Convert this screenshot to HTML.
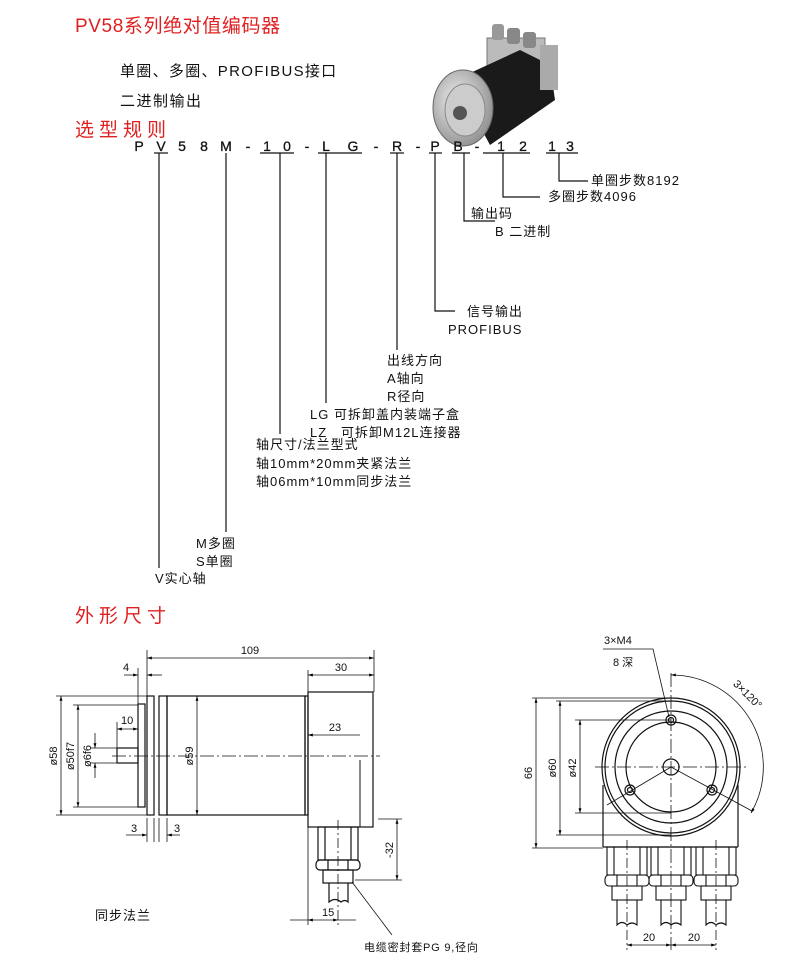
<!DOCTYPE html>
<html><head><meta charset="utf-8"><style>
html,body{margin:0;padding:0;background:#fff;}
svg{display:block;font-family:"Liberation Sans","Noto Sans CJK SC",sans-serif;}
</style></head><body>
<svg width="787" height="967" viewBox="0 0 787 967" xmlns="http://www.w3.org/2000/svg">
<defs>
<marker id="a" viewBox="0 0 10 10" refX="10" refY="5" markerWidth="8" markerHeight="6" orient="auto-start-reverse"><path d="M0,2 L10,5 L0,8 z" fill="#000"/></marker>
<radialGradient id="g1" cx="0.4" cy="0.4" r="0.7"><stop offset="0" stop-color="#eee"/><stop offset="1" stop-color="#888"/></radialGradient>
</defs>
<!-- header -->
<text x="75" y="32" font-size="19" fill="#e02020" letter-spacing="0.6">PV58系列绝对值编码器</text>
<text x="120" y="76" font-size="15" fill="#111" letter-spacing="1.3">单圈、多圈、PROFIBUS接口</text>
<text x="120" y="106" font-size="15" fill="#111" letter-spacing="1.5">二进制输出</text>
<text x="75" y="136" font-size="19" fill="#e02020" letter-spacing="5">选型规则</text>
<!-- photo -->
<g>
<rect x="487" y="38" width="58" height="40" fill="#bbb" stroke="#777"/>
<rect x="492" y="24" width="12" height="16" fill="#999" rx="3"/>
<rect x="507" y="28" width="13" height="16" fill="#888" rx="3"/>
<rect x="523" y="32" width="13" height="16" fill="#888" rx="3"/>
<polygon points="455,80 520,50 550,65 555,100 490,145" fill="#1a1a1a"/>
<rect x="540" y="45" width="18" height="45" fill="#aaa"/>
<ellipse cx="463" cy="108" rx="30" ry="38" fill="url(#g1)" stroke="#666"/>
<ellipse cx="465" cy="110" rx="20" ry="26" fill="#ccc" stroke="#888"/>
<circle cx="460" cy="113" r="7" fill="#555"/>
</g>
<!-- code line -->
<g font-size="14" fill="#111" text-anchor="middle" stroke="#111" stroke-width="0.3">
<text x="139" y="151">P</text><text x="161" y="151">V</text><text x="182" y="151">5</text><text x="204" y="151">8</text><text x="226" y="151">M</text><text x="248" y="151">-</text><text x="267" y="151">1</text><text x="287" y="151">0</text><text x="307" y="151">-</text><text x="326" y="151">L</text><text x="353" y="151">G</text><text x="376" y="151">-</text><text x="397" y="151">R</text><text x="418" y="151">-</text><text x="435" y="151">P</text><text x="458" y="151">B</text><text x="477" y="151">-</text><text x="501" y="151">1</text><text x="523" y="151">2</text><text x="552" y="151">1</text><text x="570" y="151">3</text>
</g>
<g stroke="#111" stroke-width="1.2" fill="none">
<line x1="154" y1="153" x2="168" y2="153"/><line x1="260" y1="153" x2="294" y2="153"/><line x1="318" y1="153" x2="362" y2="153"/><line x1="390" y1="153" x2="404" y2="153"/><line x1="429" y1="153" x2="442" y2="153"/><line x1="452" y1="153" x2="470" y2="153"/><line x1="483" y1="153" x2="530" y2="153"/><line x1="546" y1="153" x2="578" y2="153"/>
<polyline points="159,153 159,568"/>
<polyline points="226,153 226,532"/>
<polyline points="280,153 280,434"/>
<polyline points="326,153 326,403"/>
<polyline points="397,153 397,350"/>
<polyline points="435,153 435,311 455,311"/>
<polyline points="464,153 464,221 495,221"/>
<polyline points="503,153 503,197 540,197"/>
<polyline points="559,153 559,181 588,181"/>
</g>
<g font-size="13" fill="#111" letter-spacing="1">
<text x="591" y="185">单圈步数8192</text>
<text x="548" y="201">多圈步数4096</text>
<text x="471" y="218">输出码</text>
<text x="495" y="236">B 二进制</text>
<text x="467" y="316">信号输出</text>
<text x="448" y="334">PROFIBUS</text>
<text x="387" y="365">出线方向</text>
<text x="387" y="383">A轴向</text>
<text x="387" y="401">R径向</text>
<text x="310" y="419">LG 可拆卸盖内装端子盒</text>
<text x="310" y="437">LZ &#160;&#160;可拆卸M12L连接器</text>
<text x="256" y="449">轴尺寸/法兰型式</text>
<text x="256" y="468">轴10mm*20mm夹紧法兰</text>
<text x="256" y="486">轴06mm*10mm同步法兰</text>
<text x="196" y="548">M多圈</text>
<text x="196" y="566">S单圈</text>
<text x="155" y="583">V实心轴</text>
</g>
<text x="75" y="622" font-size="19" fill="#e02020" letter-spacing="5">外形尺寸</text>
<!-- side view -->
<g stroke="#111" stroke-width="1.2" fill="none">
<rect x="117" y="748" width="21" height="15"/>
<rect x="138" y="704" width="7" height="103"/>
<rect x="147" y="696" width="7" height="119"/>
<rect x="159" y="696" width="8" height="119"/>
<rect x="167" y="696" width="138" height="119"/>
<rect x="305" y="696" width="3" height="119"/>
<rect x="308" y="692" width="65" height="135"/>
<line x1="360" y1="760" x2="360" y2="827" stroke-width="1"/>
<rect x="318" y="827" width="40" height="33"/>
<line x1="325" y1="827" x2="325" y2="860"/><line x1="351" y1="827" x2="351" y2="860"/>
<rect x="316" y="860" width="44" height="10" rx="4"/>
<line x1="328" y1="860" x2="328" y2="870"/><line x1="348" y1="860" x2="348" y2="870"/>
<rect x="323" y="870" width="30" height="13"/>
<path d="M329,883 L329,902 Q335,897 341,902 Q345,899 348,902 L348,883"/>
</g>
<g stroke="#111" stroke-width="0.8" fill="none">
<line x1="112" y1="756" x2="380" y2="756" stroke-dasharray="14,3,2,3"/>
<line x1="338" y1="820" x2="338" y2="925" stroke-dasharray="10,3,2,3"/>
<line x1="147" y1="650" x2="147" y2="696"/><line x1="374" y1="650" x2="374" y2="692"/>
<line x1="308" y1="670" x2="308" y2="692"/>
<line x1="138" y1="668" x2="138" y2="704"/>
<line x1="147" y1="658" x2="374" y2="658" marker-start="url(#a)" marker-end="url(#a)"/>
<line x1="308" y1="675" x2="374" y2="675" marker-start="url(#a)" marker-end="url(#a)"/>
<line x1="124" y1="675" x2="138" y2="675" marker-end="url(#a)"/><line x1="162" y1="675" x2="147" y2="675" marker-end="url(#a)"/>
<line x1="117" y1="722" x2="117" y2="748"/>
<line x1="117" y1="729" x2="138" y2="729" marker-start="url(#a)" marker-end="url(#a)"/>
<line x1="308" y1="735" x2="360" y2="735" marker-start="url(#a)"/>
<line x1="197" y1="696" x2="197" y2="815" marker-start="url(#a)" marker-end="url(#a)"/>
<line x1="56" y1="696" x2="147" y2="696"/><line x1="56" y1="815" x2="147" y2="815"/>
<line x1="61" y1="696" x2="61" y2="815" marker-start="url(#a)" marker-end="url(#a)"/>
<line x1="73" y1="705" x2="138" y2="705"/><line x1="73" y1="807" x2="138" y2="807"/>
<line x1="78" y1="705" x2="78" y2="807" marker-start="url(#a)" marker-end="url(#a)"/>
<line x1="90" y1="748" x2="117" y2="748"/><line x1="90" y1="763" x2="117" y2="763"/>
<line x1="95" y1="733" x2="95" y2="748" marker-end="url(#a)"/><line x1="95" y1="778" x2="95" y2="763" marker-end="url(#a)"/>
<line x1="147" y1="818" x2="147" y2="842"/><line x1="154" y1="818" x2="154" y2="842"/><line x1="159" y1="818" x2="159" y2="842"/><line x1="167" y1="818" x2="167" y2="842"/>
<line x1="126" y1="835" x2="147" y2="835" marker-end="url(#a)"/><line x1="180" y1="835" x2="167" y2="835" marker-end="url(#a)"/>
<line x1="378" y1="819" x2="402" y2="819"/><line x1="355" y1="880" x2="402" y2="880"/>
<line x1="397" y1="819" x2="397" y2="880" marker-start="url(#a)" marker-end="url(#a)"/>
<line x1="308" y1="827" x2="308" y2="925"/>
<line x1="290" y1="920" x2="308" y2="920"/>
<line x1="308" y1="920" x2="338" y2="920" marker-start="url(#a)" marker-end="url(#a)"/>
<line x1="338" y1="920" x2="356" y2="920"/>
<line x1="352" y1="882" x2="392" y2="935"/>
</g>
<g font-size="11" fill="#111">
<text x="250" y="654" text-anchor="middle">109</text>
<text x="341" y="671" text-anchor="middle">30</text>
<text x="123" y="671">4</text>
<text x="121" y="724">10</text>
<text x="335" y="731" text-anchor="middle">23</text>
<text x="131" y="832">3</text><text x="174" y="832">3</text>
<text x="322" y="916">15</text>
<text transform="translate(193,756) rotate(-90)" text-anchor="middle">ø59</text>
<text transform="translate(57,756) rotate(-90)" text-anchor="middle">ø58</text>
<text transform="translate(74,756) rotate(-90)" text-anchor="middle">ø50f7</text>
<text transform="translate(91,756) rotate(-90)" text-anchor="middle">ø6f6</text>
<text transform="translate(393,850) rotate(-90)" text-anchor="middle">-32</text>
<text x="364" y="951" letter-spacing="0.8">电缆密封套PG 9,径向</text>
</g>
<text x="95" y="920" font-size="13" fill="#111" letter-spacing="1">同步法兰</text>
<!-- front view -->
<g stroke="#111" stroke-width="1.2" fill="none">
<line x1="603" y1="785" x2="603" y2="847"/><line x1="738" y1="785" x2="738" y2="847"/><line x1="603" y1="847" x2="738" y2="847"/>
<circle cx="671" cy="767" r="69"/><circle cx="671" cy="767" r="66"/>
<circle cx="671" cy="767" r="56"/><circle cx="671" cy="767" r="45"/>
<circle cx="671" cy="767" r="8"/>
<circle cx="671" cy="720" r="5"/><circle cx="671" cy="720" r="2.5"/>
<circle cx="630" cy="790" r="5"/><circle cx="630" cy="790" r="2.5"/>
<circle cx="712" cy="790" r="5"/><circle cx="712" cy="790" r="2.5"/>
</g>
<g stroke="#111" stroke-width="1.1" fill="none" id="gl">
<rect x="607" y="847" width="40" height="28"/><line x1="614" y1="847" x2="614" y2="875"/><line x1="640" y1="847" x2="640" y2="875"/>
<rect x="605" y="875" width="44" height="11" rx="4"/><line x1="617" y1="875" x2="617" y2="886"/><line x1="637" y1="875" x2="637" y2="886"/>
<rect x="612" y="886" width="30" height="14"/>
<path d="M617,900 L617,925 Q622,920 627,925 Q632,921 637,925 L637,900"/>
</g>
<use href="#gl" x="44"/><use href="#gl" x="89"/>
<g stroke="#111" stroke-width="0.8" fill="none">
<line x1="595" y1="767" x2="748" y2="767" stroke-dasharray="14,3,2,3"/>
<line x1="671" y1="673" x2="671" y2="950" stroke-dasharray="14,3,2,3"/>
<line x1="627" y1="840" x2="627" y2="950" stroke-dasharray="10,3,2,3"/>
<line x1="716" y1="840" x2="716" y2="950" stroke-dasharray="10,3,2,3"/>
<line x1="671" y1="767" x2="607" y2="805"/><line x1="671" y1="767" x2="752" y2="811"/>
<line x1="532" y1="698" x2="671" y2="698"/><line x1="532" y1="848" x2="603" y2="848"/>
<line x1="536" y1="698" x2="536" y2="848" marker-start="url(#a)" marker-end="url(#a)"/>
<line x1="556" y1="701" x2="671" y2="701"/><line x1="556" y1="835" x2="671" y2="835"/>
<line x1="560" y1="701" x2="560" y2="835" marker-start="url(#a)" marker-end="url(#a)"/>
<line x1="575" y1="720" x2="671" y2="720"/><line x1="575" y1="813" x2="671" y2="813"/>
<line x1="580" y1="720" x2="580" y2="813" marker-start="url(#a)" marker-end="url(#a)"/>
<line x1="627" y1="945" x2="671" y2="945" marker-start="url(#a)" marker-end="url(#a)"/>
<line x1="671" y1="945" x2="716" y2="945" marker-start="url(#a)" marker-end="url(#a)"/>
<polyline points="603,649 653,649 669,717"/>
<path d="M671,675 A92,92 0 0 1 751,813" marker-start="url(#a)" marker-end="url(#a)"/>
</g>
<g font-size="11" fill="#111">
<text x="604" y="644">3×M4</text>
<text x="613" y="666">8 深</text>
<text transform="translate(745,697) rotate(45)" text-anchor="middle">3×120°</text>
<text transform="translate(532,773) rotate(-90)" text-anchor="middle">66</text>
<text transform="translate(556,768) rotate(-90)" text-anchor="middle">ø60</text>
<text transform="translate(576,768) rotate(-90)" text-anchor="middle">ø42</text>
<text x="649" y="941" text-anchor="middle">20</text>
<text x="694" y="941" text-anchor="middle">20</text>
</g>
</svg>
</body></html>
